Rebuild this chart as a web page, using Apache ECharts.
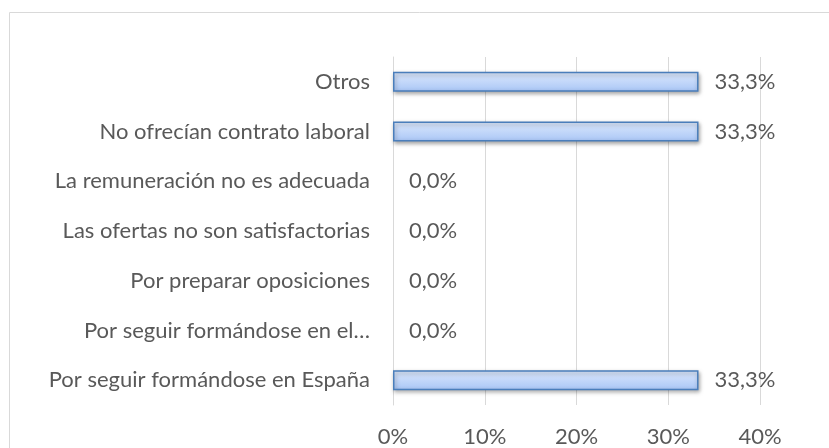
<!DOCTYPE html>
<html>
<head>
<meta charset="utf-8">
<script src="https://cdn.jsdelivr.net/npm/echarts@6/dist/echarts.min.js"></script>
<style>
  html, body { margin: 0; padding: 0; background: #fff; }
  #chart { width: 829px; height: 448px; }
</style>
</head>
<body>
<div id="chart"></div>
<script>
  // categories listed bottom -> top (category axis on y starts at the bottom)
  const categories = [
    'Por seguir formándose en España',
    'Por seguir formándose en el…',
    'Por preparar oposiciones',
    'Las ofertas no son satisfactorias',
    'La remuneración no es adecuada',
    'No ofrecían contrato laboral',
    'Otros'
  ];
  const values = [33.3, 0, 0, 0, 0, 33.3, 33.3];
  const xTicks = [0, 10, 20, 30, 40];

  const font = 'Lato, "Open Sans", sans-serif';
  const textColor = '#595959';

  const chart = echarts.init(document.getElementById('chart'));

  // zero-length bars draw nothing in the original, so drop their border
  const barData = values.map(v => v === 0
    ? { value: v, itemStyle: { borderWidth: 0, shadowColor: 'transparent' } }
    : v);

  chart.setOption({
    animation: false,
    graphic: [{
      type: 'rect',
      shape: { x: 9.5, y: 12.5, width: 900, height: 500 },
      style: { fill: 'none', stroke: '#d9d9d9', lineWidth: 1 },
      silent: true
    }],
    grid: { left: 393, right: 69, top: 57, bottom: 43 },
    xAxis: {
      type: 'value',
      min: xTicks[0],
      max: xTicks[xTicks.length - 1],
      interval: 10,
      axisLine: { show: false },
      axisTick: { show: false },
      splitLine: { lineStyle: { color: '#d9d9d9', width: 1 } },
      axisLabel: {
        formatter: v => v + '%',
        color: textColor,
        fontFamily: font,
        fontSize: 22,
        margin: 21
      }
    },
    yAxis: {
      type: 'category',
      data: categories,
      axisLine: { show: true, lineStyle: { color: '#d9d9d9' } },
      axisTick: { show: false },
      axisLabel: {
        color: textColor,
        fontFamily: font,
        fontSize: 22,
        margin: 23
      }
    },
    series: [{
      type: 'bar',
      data: barData,
      barWidth: 20,
      itemStyle: {
        color: new echarts.graphic.LinearGradient(0, 0, 0, 1, [
          { offset: 0, color: '#dde9fd' },
          { offset: 1, color: '#a9c6f6' }
        ]),
        borderColor: '#4a7ebb',
        borderWidth: 1.5,
        shadowColor: 'rgba(0,0,0,0.35)',
        shadowBlur: 4,
        shadowOffsetX: 1,
        shadowOffsetY: 2
      },
      label: {
        show: true,
        position: 'right',
        distance: 16,
        formatter: p => p.value.toFixed(1).replace('.', ',') + '%',
        color: textColor,
        fontFamily: font,
        fontSize: 22
      }
    }]
  });
</script>
</body>
</html>
